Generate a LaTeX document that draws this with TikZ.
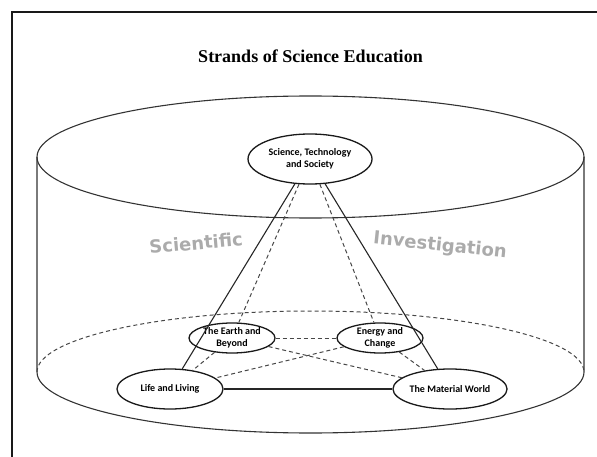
\documentclass[tikz,border=0pt]{standalone}
\usepackage{fontspec}
\setmainfont{Liberation Serif}
\newfontfamily\nodefont{Carlito}
\newfontfamily\bigsans{DejaVu Sans}
\usetikzlibrary{shapes.geometric}
\begin{document}
\begin{tikzpicture}[x=1pt,y=1pt,
  strand/.style={ellipse, draw=black!90, line width=1.3pt, inner sep=0pt,
    font=\nodefont\bfseries\fontsize{10}{11.5}\selectfont, align=center},
  solidline/.style={draw=black!85, line width=1.1pt},
  hidden/.style={draw=black!72, line width=1pt, dash pattern=on 4pt off 3pt},
  rim/.style={draw=black!80, line width=1.1pt},
  ghost/.style={text=black!33, font=\bigsans\bfseries\fontsize{18}{20}\selectfont}]
\clip (0,0) rectangle (597,456);
% frame
\draw[line width=2pt, draw=black!90] (12,444) rectangle (640,-40);
% title
\node (title) at (310.5,400) {\fontsize{18}{21}\selectfont\bfseries Strands of Science Education};
% cylinder
\draw[rim] (310.5,299) ellipse[x radius=273.5, y radius=61];
\coordinate (tl) at (37,299);
\coordinate (tr) at (584,299);
\coordinate (bl) at (37,84);
\coordinate (br) at (584,84);
\draw[rim] (tl) -- (bl) arc[start angle=180, end angle=360, x radius=273.5, y radius=61] -- (tr);
\draw[hidden] (bl) arc[start angle=180, end angle=0, x radius=273.5, y radius=61];
% ghost words
\node[ghost, rotate=5] (sci) at (196,213) {Scientific};
\node[ghost, rotate=-6] (inv) at (440,210) {Investigation};
% strands
\node[strand, minimum width=124, minimum height=50] (sts) at (310,297) {Science, Technology\\and Society};
\node[strand, minimum width=86, minimum height=30] (earth) at (232,118) {The Earth and\\Beyond};
\node[strand, minimum width=86, minimum height=30] (energy) at (380,118) {Energy and\\Change};
\node[strand, minimum width=106, minimum height=40] (life) at (170,67) {Life and Living};
\node[strand, minimum width=108, minimum height=40] (material) at (450,67) {The Material World};
% visible edges
\draw[solidline] (sts) -- (life);
\draw[solidline] (sts) -- (material);
\draw[solidline] (life) -- (material);
% hidden edges
\draw[hidden] (sts) -- (earth);
\draw[hidden] (sts) -- (energy);
\draw[hidden] (earth) -- (energy);
\draw[hidden] (earth) -- (life);
\draw[hidden] (energy) -- (material);
\draw[hidden] (earth) -- (material);
\draw[hidden] (energy) -- (life);
\end{tikzpicture}
\end{document}
